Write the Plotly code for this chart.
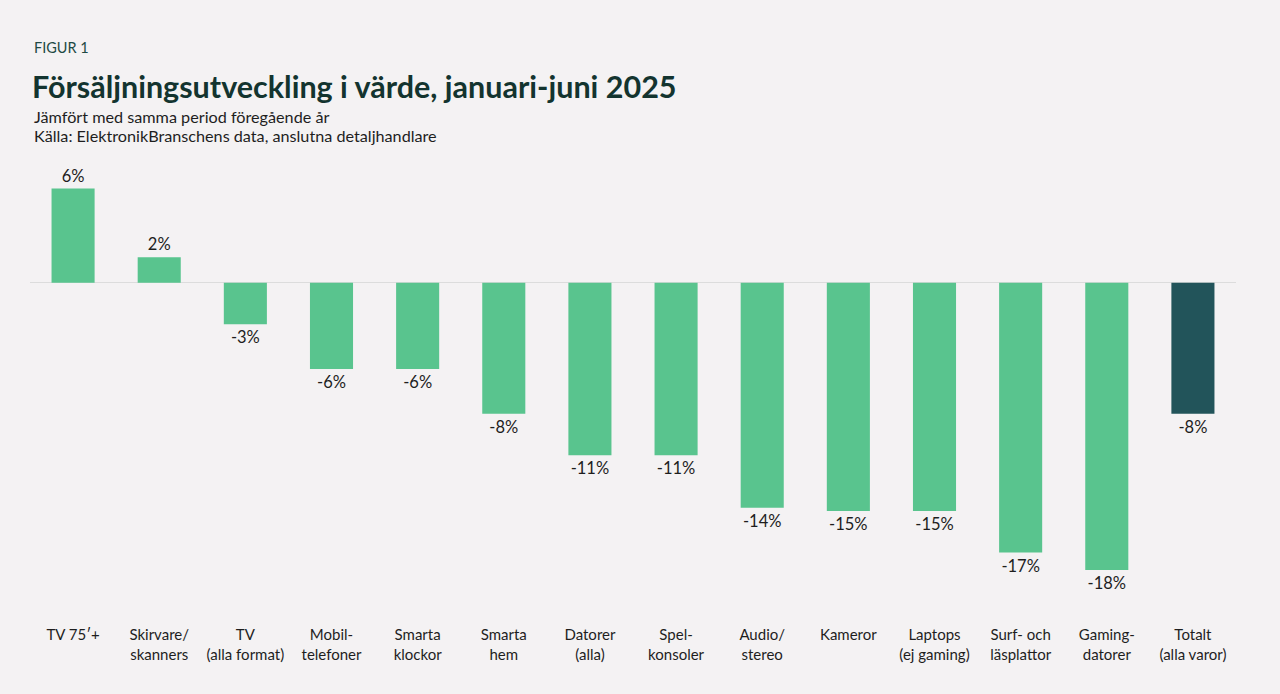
import plotly.graph_objects as go

categories = ["TV 75′+", "Skirvare/<br>skanners", "TV<br>(alla format)", "Mobil-<br>telefoner",
              "Smarta<br>klockor", "Smarta<br>hem", "Datorer<br>(alla)", "Spel-<br>konsoler",
              "Audio/<br>stereo", "Kameror", "Laptops<br>(ej gaming)", "Surf- och<br>läsplattor",
              "Gaming-<br>datorer", "Totalt<br>(alla varor)"]
values = [5.9, 1.6, -2.6, -5.4, -5.4, -8.2, -10.8, -10.8, -14.1, -14.3, -14.3, -16.9, -18.0, -8.2]
value_labels = ["6%", "2%", "-3%", "-6%", "-6%", "-8%", "-11%", "-11%", "-14%", "-15%", "-15%",
                "-17%", "-18%", "-8%"]
is_total = [False] * 13 + [True]

GREEN = "#59c48e"
DARK = "#22545a"
BG = "#f4f2f3"
TITLE_COL = "#13342f"

W, H = 1280, 694
L, R = 30, 44
T = 170.5
B = 91.5
plot_h = H - T - B

def py(pix):
    return (H - B - pix) / plot_h

def px(pix):
    return (pix - L) / (W - L - R)

fig = go.Figure()
fig.add_trace(go.Bar(
    x=list(range(len(categories))),
    y=values,
    text=value_labels,
    textposition="outside",
    textfont=dict(family="Lato", size=16.5, color="#1e1e1e"),
    marker=dict(color=[DARK if t else GREEN for t in is_total], line=dict(width=0)),
    width=0.5,
    cliponaxis=False,
    hoverinfo="skip",
))

fig.update_layout(
    width=W, height=H,
    paper_bgcolor=BG, plot_bgcolor=BG,
    margin=dict(l=L, r=R, t=T, b=B),
    showlegend=False,
    font=dict(family="Lato", color="#1e1e1e"),
    xaxis=dict(
        tickmode="array",
        tickvals=list(range(len(categories))),
        ticktext=categories,
        range=[-0.5, len(categories) - 0.5],
        showgrid=False, showline=False, zeroline=False,
        ticks="outside", ticklen=19, tickcolor="rgba(0,0,0,0)",
        tickfont=dict(family="Lato", size=15, color="#1e1e1e"),
        fixedrange=True,
    ),
    yaxis=dict(
        range=[-20, 7],
        showgrid=False, showticklabels=False, showline=False,
        zeroline=True, zerolinecolor="#dcdcdc", zerolinewidth=1,
        fixedrange=True,
    ),
    annotations=[
        dict(text="FIGUR 1", x=px(32), y=py(47), xref="paper", yref="paper",
             xanchor="left", yanchor="middle", showarrow=False,
             font=dict(family="Lato", size=14.5, color="#1f4a44")),
        dict(text="<b>Försäljningsutveckling i värde, januari-juni 2025</b>", x=px(30), y=py(85),
             xref="paper", yref="paper", xanchor="left", yanchor="middle", showarrow=False,
             font=dict(family="Lato", size=30.5, color=TITLE_COL)),
        dict(text="Jämfört med samma period föregående år", x=px(32), y=py(116),
             xref="paper", yref="paper", xanchor="left", yanchor="middle", showarrow=False,
             font=dict(family="Lato", size=16.2, color="#1e1e1e")),
        dict(text="Källa: ElektronikBranschens data, anslutna detaljhandlare", x=px(32), y=py(135),
             xref="paper", yref="paper", xanchor="left", yanchor="middle", showarrow=False,
             font=dict(family="Lato", size=16.2, color="#1e1e1e")),
    ],
)

fig.write_html("out.html", config={"displayModeBar": False},
               post_script="document.body.style.margin='0';")
